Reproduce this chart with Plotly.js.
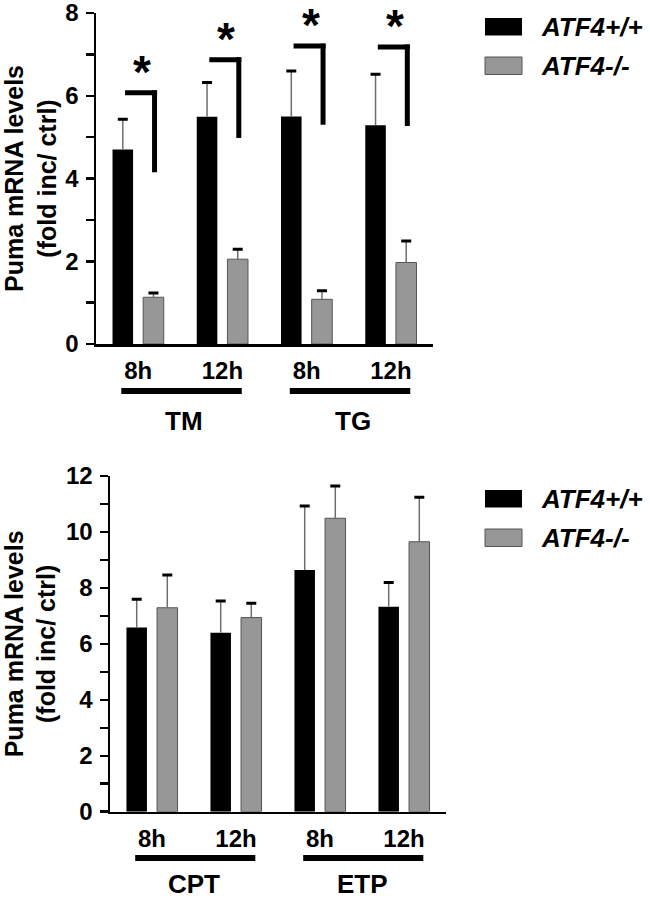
<!DOCTYPE html>
<html><head><meta charset="utf-8">
<script src="https://cdn.plot.ly/plotly-3.0.1.min.js"></script>
<style>html,body{margin:0;padding:0;background:#fff}#chart{width:650px;height:899px}</style>
</head><body><div id="chart"></div>
<script>
// ---------- data ----------
const seriesNames = ['ATF4+/+', 'ATF4-/-'];

const topCategories = ['TM-8h', 'TM-12h', 'TG-8h', 'TG-12h'];
const topTickLabels = ['8h', '12h', '8h', '12h'];
const topGroups = ['TM', 'TG'];
const topWT = [4.70, 5.49, 5.50, 5.29];
const topWTerr = [0.73, 0.83, 1.10, 1.23];
const topKO = [1.13, 2.05, 1.08, 1.97];
const topKOerr = [0.10, 0.24, 0.21, 0.52];
const sigUpper = [6.07, 6.87, 7.20, 7.18];
const sigLower = [4.15, 4.98, 5.30, 5.27];
const sigMarks = ['*', '*', '*', '*'];

const bottomCategories = ['CPT-8h', 'CPT-12h', 'ETP-8h', 'ETP-12h'];
const bottomTickLabels = ['8h', '12h', '8h', '12h'];
const bottomGroups = ['CPT', 'ETP'];
const bottomWT = [6.58, 6.40, 8.64, 7.33];
const bottomWTerr = [1.01, 1.13, 2.29, 0.86];
const bottomKO = [7.29, 6.94, 10.49, 9.65];
const bottomKOerr = [1.17, 0.51, 1.15, 1.59];

// ---------- style ----------
const FONT = 'Liberation Sans, Arial, Helvetica, sans-serif';
const BLACK = '#000000';
const GRAY = '#979797';
const GRAY_EDGE = '#555555';
const W = 650, H = 899;
const BAR_W = 0.244;
const OFF_WT = -0.304, OFF_KO = 0.06;

function barPair(cats, vals, errs, color, edge, offset, xa, ya) {
  const stem = {
    type: 'bar', x: cats, y: vals, xaxis: xa, yaxis: ya,
    width: BAR_W, offset: offset,
    marker: {color: color, line: {color: edge, width: edge === color ? 0 : 1}},
    error_y: {type: 'data', symmetric: false, array: errs, arrayminus: errs.map(() => 0),
      color: '#6e6e6e', thickness: 1.5, width: 0},
    showlegend: false, hoverinfo: 'skip'
  };
  const cap = {
    type: 'bar', x: cats, y: vals.map(() => 0), base: vals.map((v, i) => v + errs[i]),
    xaxis: xa, yaxis: ya, width: BAR_W, offset: offset,
    marker: {color: 'rgba(0,0,0,0)', line: {width: 0}},
    error_y: {type: 'data', array: vals.map(() => 0), color: BLACK, thickness: 3, width: 5},
    showlegend: false, hoverinfo: 'skip'
  };
  return [stem, cap];
}

const data = [].concat(
  barPair(topCategories, topWT, topWTerr, BLACK, BLACK, OFF_WT, 'x', 'y'),
  barPair(topCategories, topKO, topKOerr, GRAY, GRAY_EDGE, OFF_KO, 'x', 'y'),
  barPair(bottomCategories, bottomWT, bottomWTerr, BLACK, BLACK, OFF_WT, 'x2', 'y2'),
  barPair(bottomCategories, bottomKO, bottomKOerr, GRAY, GRAY_EDGE, OFF_KO, 'x2', 'y2')
);

const tickFont = {family: FONT, size: 24, color: BLACK, weight: 'bold'};
function xAxis(domainPx, cats, labels, anchor) {
  return {
    domain: [domainPx[0] / W, domainPx[1] / W], anchor: anchor, type: 'category',
    range: [-0.5, 3.5], tickvals: cats, ticktext: labels, ticks: '',
    showline: true, linecolor: BLACK, linewidth: 2.5, showgrid: false, zeroline: false,
    tickfont: tickFont, ticklabelstandoff: 4, fixedrange: true
  };
}
function yAxis(domainPx, maxV, anchor) {
  return {
    domain: [1 - domainPx[1] / H, 1 - domainPx[0] / H], anchor: anchor,
    range: [0, maxV], dtick: 2, ticks: 'outside', ticklen: 8, tickwidth: 2.5, tickcolor: BLACK,
    minor: {dtick: 1, ticks: 'outside', ticklen: 8, tickwidth: 2.5, tickcolor: BLACK},
    showline: true, linecolor: BLACK, linewidth: 2.5, showgrid: false, zeroline: false,
    tickfont: tickFont, ticklabelstandoff: 2, ticklabeloverflow: 'allow', fixedrange: true,
    title: {text: 'Puma mRNA levels<br>(fold inc/ ctrl)', standoff: 11,
      font: {family: FONT, size: 25, color: BLACK, weight: 'bold'}}
  };
}

const shapes = [];
const annotations = [];

function groupDecor(groups, xref, lineYpx, labelYpx, labelShift) {
  groups.forEach((g, gi) => {
    shapes.push({type: 'line', xref: xref, yref: 'paper',
      x0: gi * 2 - 0.2, x1: gi * 2 + 1.23, y0: 1 - lineYpx / H, y1: 1 - lineYpx / H,
      line: {color: BLACK, width: 6}});
    annotations.push({xref: xref, yref: 'paper', x: gi * 2 + 0.5 + labelShift, y: 1 - labelYpx / H,
      text: g, showarrow: false, xanchor: 'center', yanchor: 'middle', borderpad: 0,
      font: {family: FONT, size: 26, color: BLACK, weight: 'bold'}});
  });
}
groupDecor(topGroups, 'x', 391, 421, 0.05);
groupDecor(bottomGroups, 'x2', 858, 884, 0);

// significance brackets (top panel)
const halfLineX = 0.03, halfLineY = 0.06;
sigUpper.forEach((u, i) => {
  shapes.push({type: 'line', xref: 'x', yref: 'y', x0: i - 0.155, x1: i + 0.195 + halfLineX,
    y0: u, y1: u, line: {color: BLACK, width: 5}});
  shapes.push({type: 'line', xref: 'x', yref: 'y', x0: i + 0.195, x1: i + 0.195,
    y0: u + halfLineY, y1: sigLower[i], line: {color: BLACK, width: 5}});
  annotations.push({xref: 'x', yref: 'y', x: topCategories[i], y: u, xshift: 4, yshift: -6,
    text: sigMarks[i], showarrow: false, xanchor: 'center', yanchor: 'bottom', borderpad: 0,
    font: {family: FONT, size: 46, color: BLACK, weight: 'bold'}});
});

// custom legends
function legend(topPx) {
  const rows = [{c: BLACK, e: BLACK}, {c: GRAY, e: GRAY_EDGE}];
  rows.forEach((r, k) => {
    const y0 = topPx + k * 39, y1 = y0 + 17.5;
    shapes.push({type: 'rect', xref: 'paper', yref: 'paper',
      x0: 485 / W, x1: 522 / W, y0: 1 - y1 / H, y1: 1 - y0 / H,
      fillcolor: r.c, line: {color: r.e, width: r.c === r.e ? 0 : 1}});
    annotations.push({xref: 'paper', yref: 'paper', x: 539 / W, y: 1 - (y0 + 9) / H,
      text: '<i>' + seriesNames[k] + '</i>', showarrow: false, xanchor: 'left', yanchor: 'middle',
      font: {family: FONT, size: 26, color: BLACK, weight: 'bold', style: 'italic'}});
  });
}
legend(18);
legend(490);

const layout = {
  width: W, height: H, margin: {l: 0, r: 0, t: 0, b: 0},
  paper_bgcolor: '#ffffff', plot_bgcolor: '#ffffff',
  barmode: 'overlay', showlegend: false,
  xaxis: xAxis([96, 433], topCategories, topTickLabels, 'y'),
  yaxis: yAxis([13, 344], 8, 'x'),
  xaxis2: xAxis([110, 446], bottomCategories, bottomTickLabels, 'y2'),
  yaxis2: yAxis([476, 811.7], 12, 'x2'),
  shapes: shapes, annotations: annotations,
  font: {family: FONT, color: BLACK}
};

Plotly.newPlot('chart', data, layout, {staticPlot: true, displayModeBar: false});
</script>
</body></html>
